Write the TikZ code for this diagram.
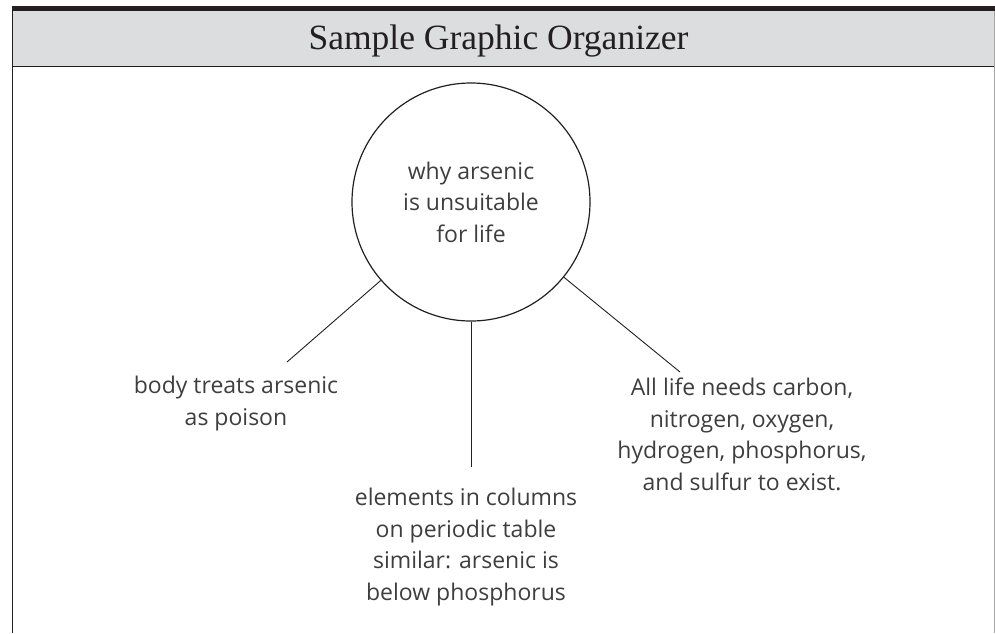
\documentclass[tikz,border=0pt]{standalone}
\usepackage{fontspec}
\setmainfont{Open Sans}
\newfontfamily\titlefont{Liberation Serif}
\usepackage{tikz}
\usetikzlibrary{positioning}
\definecolor{barblack}{RGB}{35,31,32}
\definecolor{headgray}{RGB}{220,221,222}
\definecolor{inkgray}{RGB}{62,62,62}
\definecolor{edgegray}{RGB}{165,165,165}

\begin{document}
\begin{tikzpicture}[x=1pt, y=-1pt, every node/.style={font=\fontsize{23}{31.5}\selectfont, text=inkgray, align=center, inner sep=0pt}]
    \useasboundingbox (0,0) rectangle (995,633);

    % Header band
    \fill[barblack] (12,6) rectangle (995,11);
    \fill[headgray] (12,11) rectangle (995,66);
    \draw[barblack, line width=1.3pt] (12,66.5) -- (995,66.5);
    \draw[barblack, line width=1.3pt] (12.6,6) -- (12.6,633);
    \draw[edgegray, line width=1pt] (994,11) -- (994,633);
    \node[font=\titlefont\fontsize{35.5}{40}\selectfont, text=barblack, anchor=base] (title) at (498.5,49) {Sample Graphic Organizer};

    % Central idea
    \node[draw=barblack, circle, line width=1.2pt, minimum size=238pt] (core) at (471,202) {why arsenic\\is unsuitable\\for life};

    % Free ends of the spokes
    \coordinate (poisontip) at (287,362);
    \coordinate (tabletip) at (471,467);
    \coordinate (needstip) at (680,372);

    % Details (base = last line)
    \node[anchor=base] (poison) at (236,425) {body treats arsenic\\as poison};
    \node[anchor=base] (table) at (466,600) {elements in columns\\on periodic table\\similar: arsenic is\\below phosphorus};
    \node[anchor=base] (needs) at (742,490) {All life needs carbon,\\nitrogen, oxygen,\\hydrogen, phosphorus,\\and sulfur to exist.};

    % Spokes
    \draw[barblack, line width=0.9pt] (core.221) -- (poisontip);
    \draw[barblack, line width=0.9pt] (core.270) -- (tabletip);
    \draw[barblack, line width=0.9pt] (core.321) -- (needstip);
\end{tikzpicture}
\end{document}
